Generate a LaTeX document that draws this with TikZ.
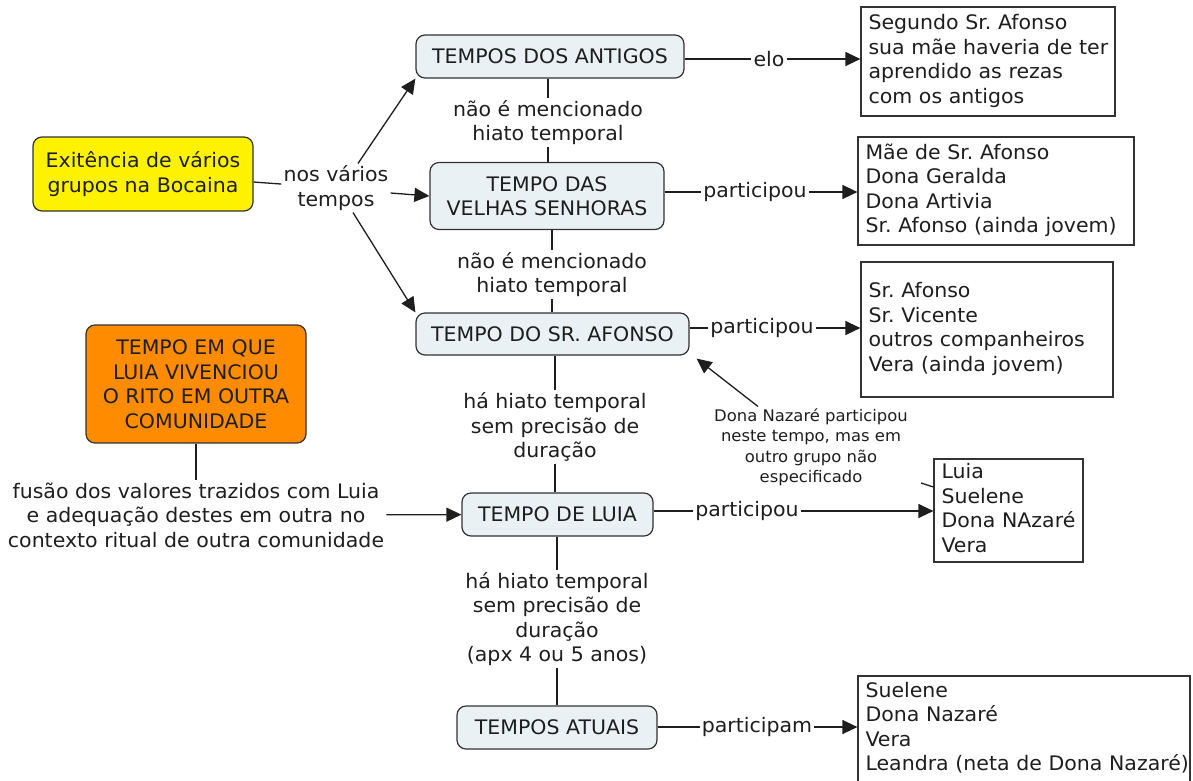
\documentclass[tikz,border=0pt]{standalone}
\usepackage{fontspec}
\setmainfont{DejaVu Sans}[FakeStretch=1.025]
\usetikzlibrary{arrows.meta}
\definecolor{conc}{RGB}{233,241,244}
\definecolor{orng}{RGB}{255,140,0}
\definecolor{edge}{RGB}{50,50,50}
\definecolor{ink}{RGB}{30,30,30}
\frenchspacing
\newcommand\lst[1]{\begin{tabular}{@{}l@{}}#1\end{tabular}}
\begin{document}
\begin{tikzpicture}[x=1pt,y=-1pt,
  every node/.style={font=\fontsize{20}{24.5}\selectfont, text=ink},
  concept/.style={draw=edge, line width=1.2pt, rounded corners=9pt, fill=conc, align=center, inner sep=0pt},
  listbox/.style={draw=black!80, line width=1.2pt, rectangle, align=left, inner xsep=7.5pt, inner ysep=0pt},
  phrase/.style={align=center, inner sep=2pt},
  link/.style={draw=ink, line width=1.3pt},
  arr/.style={link, -{Triangle[length=15pt,width=14pt]}}
]
\useasboundingbox (0,0) rectangle (1193,780);

\node[concept, fill=yellow, minimum width=220pt, minimum height=74pt] (yel) at (143,174) {Exitência de vários\\grupos na Bocaina};
\node[phrase] (nos) at (336,188) {nos vários\\tempos};
\node[concept, minimum width=268pt, minimum height=43pt] (ant) at (550,56.5) {TEMPOS DOS ANTIGOS};
\node[phrase] (elo) at (769,59) {elo};
\node[listbox, text width=239pt, minimum height=109pt] (seg) at (988,61.5) {\lst{Segundo Sr. Afonso\\sua mãe haveria de ter\\aprendido as rezas\\com os antigos}};
\node[phrase] (nm1) at (548,122.5) {não é mencionado\\hiato temporal};
\node[concept, minimum width=234pt, minimum height=67pt] (vel) at (547,196) {TEMPO DAS\\VELHAS SENHORAS};
\node[phrase] (p1) at (755,192) {participou};
\node[listbox, text width=261pt, minimum height=108pt] (mae) at (996,191) {\lst{Mãe de Sr. Afonso\\Dona Geralda\\Dona Artivia\\Sr. Afonso (ainda jovem)}};
\node[phrase] (nm2) at (552,274.5) {não é mencionado\\hiato temporal};
\node[concept, minimum width=273pt, minimum height=42pt] (sra) at (552.5,334) {TEMPO DO SR. AFONSO};
\node[phrase] (p2) at (762,328) {participou};
\node[listbox, text width=237pt, minimum height=135pt] (afb) at (987,329.5) {\lst{Sr. Afonso\\Sr. Vicente\\outros companheiros\\Vera (ainda jovem)}};
\node[concept, fill=orng, minimum width=220pt, minimum height=118pt] (ora) at (196,384) {TEMPO EM QUE\\LUIA VIVENCIOU\\O RITO EM OUTRA\\COMUNIDADE};
\node[phrase] (fus) at (196,515) {fusão dos valores trazidos com Luia\\e adequação destes em outra no\\contexto ritual de outra comunidade};
\node[phrase] (ha1) at (555,427) {há hiato temporal\\sem precisão de\\duração};
\node[concept, minimum width=191pt, minimum height=43pt] (lui) at (557.5,514.5) {TEMPO DE LUIA};
\node[phrase, font=\fontsize{16}{20.5}\selectfont] (don) at (811,447.5) {Dona Nazaré participou\\neste tempo, mas em\\outro grupo não\\especificado};
\node[phrase] (p3) at (747,511) {participou};
\node[listbox, text width=134pt, minimum height=103pt] (lub) at (1008.5,510.5) {\lst{Luia\\Suelene\\Dona NAzaré\\Vera}};
\node[phrase] (ha2) at (557,619) {há hiato temporal\\sem precisão de\\duração\\(apx 4 ou 5 anos)};
\node[concept, minimum width=200pt, minimum height=43pt] (atu) at (557,727.5) {TEMPOS ATUAIS};
\node[phrase] (p4) at (757,727) {participam};
\node[listbox, text width=317pt, minimum height=106pt] (atb) at (1024,729) {\lst{Suelene\\Dona Nazaré\\Vera\\Leandra (neta de Dona Nazaré)}};
\coordinate (st) at (921,483);

\draw[link] (yel) -- (nos);
\draw[arr] ([xshift=22]nos.north) -- (ant.south west);
\draw[arr] ([yshift=-5]nos.east) -- (vel.west);
\draw[arr] ([xshift=17]nos.south) -- (sra.north west);
\draw[link] (ant.east |- elo) -- (elo);
\draw[arr] (elo) -- (elo -| seg.west);
\draw[link] (nm1.north |- ant.south) -- (nm1.north);
\draw[link] (nm1.south) -- (nm1.south |- vel.north);
\draw[link] (vel.east |- p1) -- (p1);
\draw[arr] (p1) -- (p1 -| mae.west);
\draw[link] (nm2.north |- vel.south) -- (nm2.north);
\draw[link] (nm2.south) -- (nm2.south |- sra.north);
\draw[link] (sra.east |- p2) -- (p2);
\draw[arr] (p2) -- (p2 -| afb.west);
\draw[link] (ha1.north |- sra.south) -- (ha1.north);
\draw[link] (ha1.south) -- (ha1.south |- lui.north);
\draw[link] (ora) -- (fus);
\draw[arr] (fus) -- (lui);
\draw[arr] ([xshift=-53]don.north) -- ([xshift=7,yshift=-3]sra.south east);
\draw[link] (lui.east |- p3) -- (p3);
\draw[arr] (p3) -- (p3 -| lub.west);
\draw[link] (st) -- ([yshift=23.5]lub.west);
\draw[link] (ha2.north |- lui.south) -- (ha2.north);
\draw[link] (ha2.south) -- (ha2.south |- atu.north);
\draw[link] (atu.east |- p4) -- (p4);
\draw[arr] (p4) -- (p4 -| atb.west);
\end{tikzpicture}
\end{document}
